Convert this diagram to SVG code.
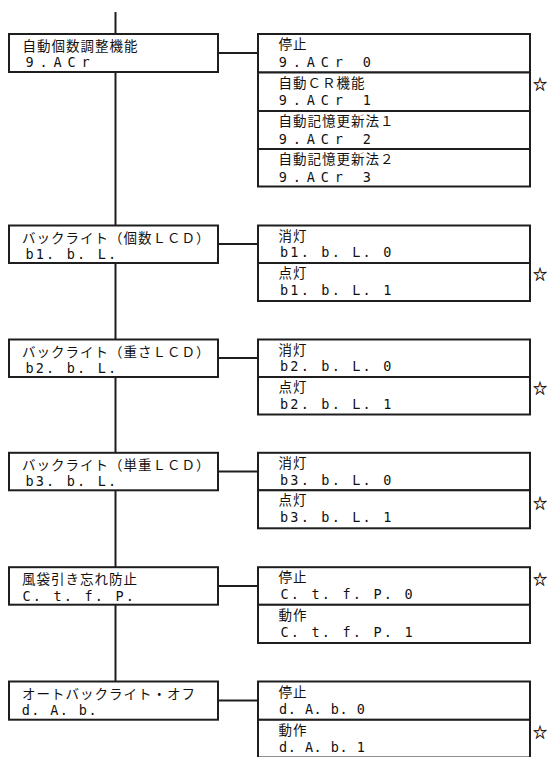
<svg xmlns="http://www.w3.org/2000/svg" width="550" height="757" viewBox="0 0 550 757">
<style>
.box{fill:#fff;stroke:#1e1e1e;stroke-width:2}
.ln{stroke:#1e1e1e;stroke-width:2;fill:none}
.jp{font-family:"Noto Sans CJK JP","Noto Sans CJK SC",sans-serif;font-size:13.5px;letter-spacing:1px;fill:#111}
.cd{font-family:"DejaVu Sans Mono","Liberation Mono",monospace;font-size:13.5px;fill:#111}
.p14{letter-spacing:5.9px}
.p10{letter-spacing:2.2px}
.p95{letter-spacing:1.4px}
.p86{letter-spacing:0.5px}
.star{font-family:"Noto Sans CJK JP","DejaVu Sans",sans-serif;font-size:14px;text-anchor:middle;dominant-baseline:central;fill:#111;stroke:#111;stroke-width:0.3}
</style>
<g id="connectors">
<line class="ln" x1="115.5" y1="12" x2="115.5" y2="681.5"/>
<line class="ln" x1="218" y1="53" x2="258" y2="53"/>
<line class="ln" x1="218" y1="244" x2="258" y2="244"/>
<line class="ln" x1="218" y1="358" x2="258" y2="358"/>
<line class="ln" x1="218" y1="471.5" x2="258" y2="471.5"/>
<line class="ln" x1="218" y1="586" x2="258" y2="586"/>
<line class="ln" x1="218" y1="700.6" x2="258" y2="700.6"/>
</g>
<g id="n1">
<rect class="box" x="9" y="34" width="209" height="38"/>
<text class="jp" x="22.5" y="51">自動個数調整機能</text>
<text class="cd p14" x="25.5" y="67">9.ACr</text>
</g>
<g id="n1-opts">
<rect class="box" x="258" y="34" width="272" height="38.5"/>
<text class="jp" x="278.5" y="49">停止</text>
<text class="cd p14" x="278.7" y="66.5">9.ACr 0</text>
<rect class="box" x="258" y="72.5" width="272" height="38.5"/>
<text class="jp" x="278.5" y="87.5">自動ＣＲ機能</text>
<text class="cd p14" x="278.7" y="105">9.ACr 1</text>
<rect class="box" x="258" y="111" width="272" height="38"/>
<text class="jp" x="278.5" y="126">自動記憶更新法１</text>
<text class="cd p14" x="278.7" y="143.5">9.ACr 2</text>
<rect class="box" x="258" y="149" width="272" height="37.5"/>
<text class="jp" x="278.5" y="164">自動記憶更新法２</text>
<text class="cd p14" x="278.7" y="181.5">9.ACr 3</text>
<text class="star" x="540" y="83.3">☆</text>
</g>
<g id="n2">
<rect class="box" x="9" y="225.5" width="209" height="37.5"/>
<text class="jp" x="22" y="242.5">バックライト（個数ＬＣＤ）</text>
<text class="cd p10" x="25.4" y="258.8">b1. b. L.</text>
</g>
<g id="n2-opts">
<rect class="box" x="258" y="225.5" width="272" height="37.5"/>
<text class="jp" x="278.5" y="240.5">消灯</text>
<text class="cd p10" x="280" y="257.2">b1. b. L. 0</text>
<rect class="box" x="258" y="263" width="272" height="38"/>
<text class="jp" x="278.5" y="278">点灯</text>
<text class="cd p10" x="280" y="295">b1. b. L. 1</text>
<text class="star" x="540" y="273.3">☆</text>
</g>
<g id="n3">
<rect class="box" x="9" y="339.5" width="209" height="37.5"/>
<text class="jp" x="22" y="356.5">バックライト（重さＬＣＤ）</text>
<text class="cd p10" x="25.4" y="372.8">b2. b. L.</text>
</g>
<g id="n3-opts">
<rect class="box" x="258" y="339.5" width="272" height="37.5"/>
<text class="jp" x="278.5" y="354.5">消灯</text>
<text class="cd p10" x="280" y="371.2">b2. b. L. 0</text>
<rect class="box" x="258" y="377" width="272" height="37.5"/>
<text class="jp" x="278.5" y="392">点灯</text>
<text class="cd p10" x="280" y="409">b2. b. L. 1</text>
<text class="star" x="540" y="386.7">☆</text>
</g>
<g id="n4">
<rect class="box" x="9" y="452.8" width="209" height="37.5"/>
<text class="jp" x="22" y="469.8">バックライト（単重ＬＣＤ）</text>
<text class="cd p10" x="25.4" y="486">b3. b. L.</text>
</g>
<g id="n4-opts">
<rect class="box" x="258" y="452.8" width="272" height="37.5"/>
<text class="jp" x="278.5" y="467.8">消灯</text>
<text class="cd p10" x="280" y="484.5">b3. b. L. 0</text>
<rect class="box" x="258" y="490.3" width="272" height="38"/>
<text class="jp" x="278.5" y="505.3">点灯</text>
<text class="cd p10" x="280" y="522.3">b3. b. L. 1</text>
<text class="star" x="540" y="501.7">☆</text>
</g>
<g id="n5">
<rect class="box" x="9" y="567.2" width="209" height="37.5"/>
<text class="jp" x="22" y="584.2">風袋引き忘れ防止</text>
<text class="cd p10" x="22.5" y="600.5">C. t. f. P.</text>
</g>
<g id="n5-opts">
<rect class="box" x="258" y="567.2" width="272" height="37.6"/>
<text class="jp" x="278.5" y="582.2">停止</text>
<text class="cd p10" x="280.5" y="599">C. t. f. P. 0</text>
<rect class="box" x="258" y="604.8" width="272" height="38.2"/>
<text class="jp" x="278.5" y="619.8">動作</text>
<text class="cd p10" x="280.5" y="636.8">C. t. f. P. 1</text>
<text class="star" x="540" y="577.5">☆</text>
</g>
<g id="n6">
<rect class="box" x="9" y="681.5" width="209" height="38.2"/>
<text class="jp" x="22" y="698.5">オートバックライト・オフ</text>
<text class="cd p95" x="21.7" y="714.8">d. A. b.</text>
</g>
<g id="n6-opts">
<rect class="box" x="258" y="681.5" width="272" height="38.3"/>
<text class="jp" x="278.5" y="696.5">停止</text>
<text class="cd p86" x="279" y="713.5">d. A. b. 0</text>
<rect class="box" x="258" y="719.8" width="272" height="37.7"/>
<text class="jp" x="278.5" y="734.8">動作</text>
<text class="cd p86" x="279" y="751.8">d. A. b. 1</text>
<text class="star" x="540" y="731">☆</text>
</g>
</svg>
